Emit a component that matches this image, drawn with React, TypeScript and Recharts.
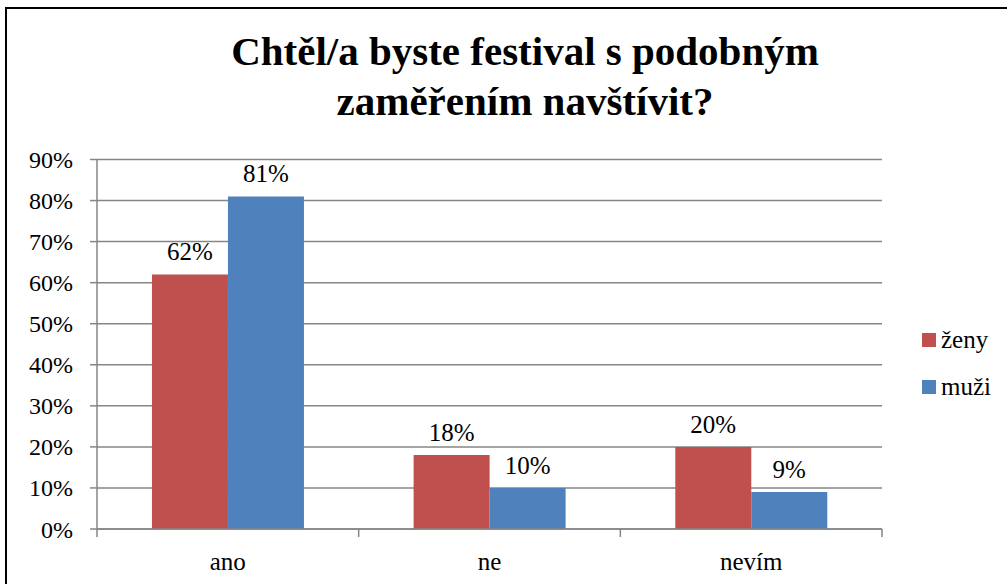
import { BarChart, Bar, XAxis, YAxis, CartesianGrid, LabelList } from 'recharts';

// ─── data ─────────────────────────────────────────────────────────────────────

const categories = ['ano', 'ne', 'nevím'];
const zeny = [62, 18, 20];
const muzi = [81, 10, 9];
const yTicks = [0, 10, 20, 30, 40, 50, 60, 70, 80, 90];
const seriesNames = ['ženy', 'muži'];

const data = categories.map((c, i) => ({ name: c, zeny: zeny[i], muzi: muzi[i] }));

const FONT =
  "'Liberation Serif', 'Times New Roman', Times, Tinos, 'Nimbus Roman', 'Nimbus Roman No9 L', FreeSerif, 'Noto Serif', 'DejaVu Serif', serif";
const GRID = '#868686';
const RED = '#C0504D';
const BLUE = '#4F81BD';
const seriesColors = [RED, BLUE];

// category label plus tick marks on the band edges
// (y comes in below the axis line by tickSize + tickMargin = 8)
function CategoryTick({ x, y, payload, index, width }: any) {
  const half = payload?.offset ?? width / (2 * categories.length);
  const top = y - 8;
  return (
    <g>
      <line x1={x - half} y1={top} x2={x - half} y2={top + 8} stroke={GRID} strokeWidth={1.5} />
      {index === categories.length - 1 && (
        <line x1={x + half} y1={top} x2={x + half} y2={top + 8} stroke={GRID} strokeWidth={1.5} />
      )}
      <text x={x} y={top + 41} textAnchor="middle" fontSize={25} fontFamily={FONT} fill="#000">
        {payload.value}
      </text>
    </g>
  );
}

export default function App() {
  return (
    <div style={{ position: 'fixed', left: 0, top: 0, width: 1007, height: 584, overflow: 'hidden', background: '#fff' }}>
      <div
        style={{
          position: 'absolute',
          left: 5,
          top: 7,
          width: 1040,
          height: 640,
          border: '2px solid #000',
        }}
      />
      <div
        style={{
          position: 'absolute',
          left: 25,
          top: 26,
          width: 1000,
          textAlign: 'center',
          fontFamily: FONT,
          fontWeight: 700,
          fontSize: 41,
          lineHeight: '50px',
          color: '#000',
        }}
      >
        Chtěl/a byste festival s podobným
        <br />
        zaměřením navštívit?
      </div>
      <div style={{ position: 'absolute', left: 0, top: 0 }}>
        <BarChart
          width={1007}
          height={584}
          data={data}
          barCategoryGap="21%"
          barGap={0}
          margin={{ top: 159.5, right: 125, bottom: 15, left: 0 }}
        >
          <CartesianGrid vertical={false} stroke={GRID} strokeWidth={1.5} />
          <XAxis
            dataKey="name"
            height={40}
            axisLine={{ stroke: GRID, strokeWidth: 1.5 }}
            tickLine={false}
            tick={<CategoryTick />}
            interval={0}
          />
          <YAxis
            width={97}
            domain={[0, 90]}
            ticks={yTicks}
            interval={0}
            tickFormatter={(v: number) => `${v}%`}
            axisLine={{ stroke: GRID, strokeWidth: 1.5 }}
            tickLine={{ stroke: GRID, strokeWidth: 1.5 }}
            tickSize={7}
            tickMargin={17}
            tick={{ fontSize: 24, fontFamily: FONT, fill: '#000' }}
          />
          <Bar dataKey="zeny" name="ženy" fill={RED} isAnimationActive={false}>
            <LabelList
              dataKey="zeny"
              position="top"
              offset={14}
              formatter={(v: any) => `${v}%`}
              style={{ fontSize: 25, fontFamily: FONT, fill: '#000' }}
            />
          </Bar>
          <Bar dataKey="muzi" name="muži" fill={BLUE} isAnimationActive={false}>
            <LabelList
              dataKey="muzi"
              position="top"
              offset={14}
              formatter={(v: any) => `${v}%`}
              style={{ fontSize: 25, fontFamily: FONT, fill: '#000' }}
            />
          </Bar>
        </BarChart>
      </div>
      <div style={{ position: 'absolute', left: 922, top: 316, fontFamily: FONT, fontSize: 25, color: '#000' }}>
        {seriesNames.map((n, i) => (
          <div key={n} style={{ display: 'flex', alignItems: 'center', height: 47 }}>
            <span style={{ width: 14, height: 14, background: seriesColors[i], marginRight: 5 }} />
            <span>{n}</span>
          </div>
        ))}
      </div>
    </div>
  );
}
